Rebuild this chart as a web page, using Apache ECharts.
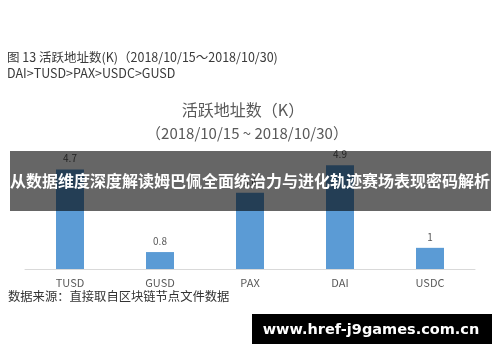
<!DOCTYPE html>
<html>
<head>
<meta charset="utf-8">
<script src="https://cdn.jsdelivr.net/npm/echarts@6/dist/echarts.min.js"></script>
<style>
  html, body { margin: 0; padding: 0; background: #fff; }
  #chart { width: 500px; height: 362px; }
</style>
</head>
<body>
<div id="chart"></div>
<script>
  const categories = ['TUSD', 'GUSD', 'PAX', 'DAI', 'USDC']
  const values = [4.7, 0.8, 3.6, 4.9, 1]

  const font = '"Noto Sans CJK SC", "Noto Sans", sans-serif'
  let myChart = echarts.init(document.getElementById('chart'))

  const option = {
    backgroundColor: '#fff',
    animation: false,
    grid: {
      left: 25,
      right: 25,
      top: 142,
      bottom: 93
    },
    xAxis: {
      type: 'category',
      data: categories,
      axisLine: { lineStyle: { color: '#d9d9d9', width: 1 } },
      axisTick: { show: false },
      axisLabel: { color: '#595959', fontSize: 11, fontFamily: font, margin: 8 }
    },
    yAxis: {
      type: 'value',
      min: 0,
      max: 6,
      show: false
    },
    series: [
      {
        type: 'bar',
        data: values,
        barWidth: 28,
        itemStyle: { color: '#5b9bd5' },
        label: {
          show: true,
          position: 'top',
          distance: 6,
          color: '#595959',
          fontSize: 10,
          fontFamily: font
        }
      }
    ],
    graphic: [
      {
        type: 'text', left: 7, top: 51,
        style: { text: '图 13 活跃地址数(K)（2018/10/15～2018/10/30)', fill: '#3a3a3a', font: '12.5px ' + font }
      },
      {
        type: 'text', left: 7, top: 67,
        style: { text: 'DAI>TUSD>PAX>USDC>GUSD', fill: '#3a3a3a', font: '12.5px ' + font }
      },
      {
        type: 'text', x: 243, y: 110,
        style: { text: '活跃地址数（K）', fill: '#595959', font: '16px ' + font, align: 'center', verticalAlign: 'middle' }
      },
      {
        type: 'text', x: 247, y: 133,
        style: { text: '（2018/10/15 ~ 2018/10/30）', fill: '#595959', font: '15px ' + font, align: 'center', verticalAlign: 'middle' }
      },
      {
        type: 'text', left: 8, top: 290,
        style: { text: '数据来源：直接取自区块链节点文件数据', fill: '#333', font: '12.3px ' + font }
      },
      {
        type: 'rect', z: 100,
        shape: { x: 10, y: 151, width: 481, height: 60 },
        style: { fill: 'rgba(0,0,0,0.6)' }
      },
      {
        type: 'text', z: 101, x: 250, y: 181,
        style: { text: '从数据维度深度解读姆巴佩全面统治力与进化轨迹赛场表现密码解析', fill: '#fff', font: 'bold 16px ' + font, align: 'center', verticalAlign: 'middle' }
      },
      {
        type: 'rect', z: 100,
        shape: { x: 252, y: 314, width: 240, height: 30 },
        style: { fill: '#000' }
      },
      {
        type: 'text', z: 101, x: 371, y: 330,
        style: { text: 'www.href-j9games.com.cn', fill: '#fff', font: 'bold 14.5px "DejaVu Sans", sans-serif', align: 'center', verticalAlign: 'middle' }
      }
    ]
  }
  myChart.setOption(option)
</script>
</body>
</html>
